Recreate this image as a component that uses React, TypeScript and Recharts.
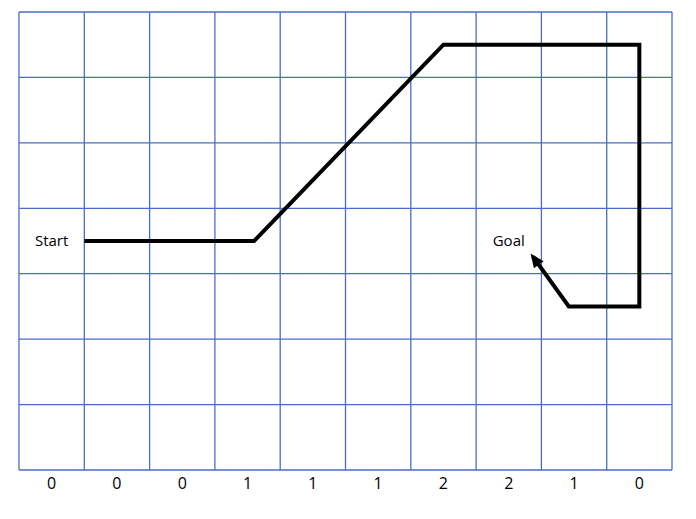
import { LineChart, Line, XAxis, YAxis, ReferenceLine, ReferenceDot } from "recharts";

const colLabels = ["0", "0", "0", "1", "1", "1", "2", "2", "1", "0"];
const pathX = [1.0, 3.6, 6.5, 9.5, 9.5, 8.42, 7.87];
const pathY = [3.5, 3.5, 6.5, 6.5, 2.5, 2.5, 3.26];
const vLines = [0, 1, 2, 3, 4, 5, 6, 7, 8, 9, 10];
const hLines = [0, 1, 2, 3, 4, 5, 6, 7];
const labelTicks = colLabels.map((_, i) => i + 0.5);

const data = pathX.map((x, i) => ({ x, y: pathY[i] }));
const GRID = "#4a6cc4";
const FONT = "Open Sans, Liberation Sans, sans-serif";

// arrowhead at the last point, pointing along the final segment
const ArrowDot = (props: any) => {
  const { cx, cy, index } = props;
  if (index !== data.length - 1 || cx == null) return null;
  const a = data[index - 1], b = data[index];
  const ang = Math.atan2(-(b.y - a.y) * 65.4, (b.x - a.x) * 65.3);
  const deg = (ang * 180) / Math.PI;
  return (
    <polygon key="arrow" points="4,0 -10,-6 -10,6" fill="#000"
      transform={`translate(${cx},${cy}) rotate(${deg})`} />
  );
};

export default function App() {
  return (
    <LineChart width={680} height={511} data={data}
      margin={{ top: 4, right: 16, bottom: 19, left: 11 }}>
      <XAxis type="number" dataKey="x" domain={[0, 10]} ticks={labelTicks}
        tickFormatter={(v) => colLabels[Math.floor(v)]} axisLine={false} tickLine={false}
        height={30} tick={{ fill: "#000", fontSize: 16, fontFamily: FONT }} interval={0} />
      <YAxis type="number" dataKey="y" domain={[0, 7]} hide />
      {vLines.map((v) => (
        <ReferenceLine key={"v" + v} x={v} stroke={GRID} strokeWidth={1.3} />
      ))}
      {hLines.map((h) => (
        <ReferenceLine key={"h" + h} y={h} stroke={GRID} strokeWidth={1.3} />
      ))}
      <Line type="linear" dataKey="y" stroke="#000" strokeWidth={4} dot={ArrowDot}
        activeDot={false} isAnimationActive={false} />
      <ReferenceDot x={0.5} y={3.5} r={0} stroke="none"
        label={{ value: "Start", fill: "#000", fontSize: 15, fontFamily: FONT }} />
      <ReferenceDot x={7.5} y={3.5} r={0} stroke="none"
        label={{ value: "Goal", fill: "#000", fontSize: 15, fontFamily: FONT }} />
    </LineChart>
  );
}
